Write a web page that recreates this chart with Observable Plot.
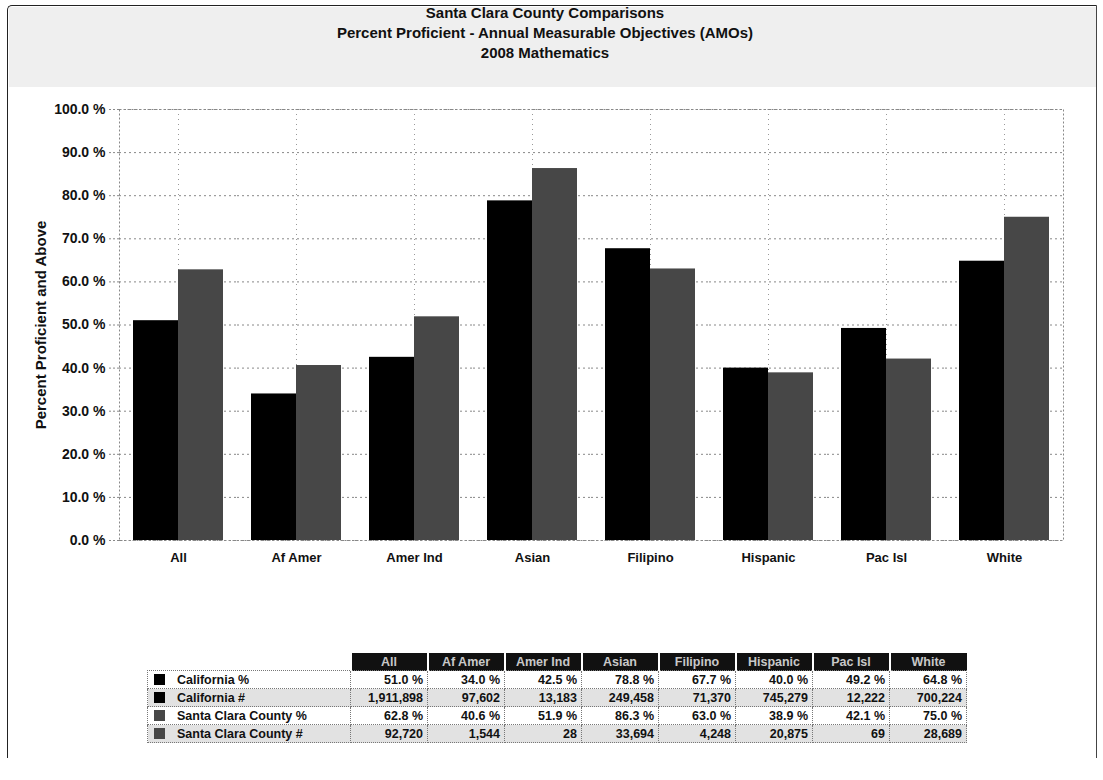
<!DOCTYPE html>
<html>
<head>
<meta charset="utf-8">
<script src="https://cdn.jsdelivr.net/npm/d3@7"></script>
<script src="https://cdn.jsdelivr.net/npm/@observablehq/plot@0.6"></script>
<style>
  html, body { margin: 0; padding: 0; background: #fff; }
  body { width: 1103px; height: 780px; position: relative; overflow: hidden;
         font-family: "Liberation Sans", Arial, sans-serif; }
  #border { position: absolute; left: 7px; top: 5px; width: 1088px; height: 752px;
            border-left: 1.5px solid #222; border-top: 1.5px solid #222; border-right: 1.5px solid #444;
            border-top-left-radius: 5px; }
  #titlebg { position: absolute; left: 9px; top: 7px; width: 1087px; height: 80px; background: #efefef; }
  #title { position: absolute; left: 0; top: 3px; width: 1090px; text-align: center;
           font-weight: bold; font-size: 15px; line-height: 20px; color: #111; }
  #chart { position: absolute; left: 0; top: 90px; }
  #tbl { position: absolute; left: 147px; top: 653px; border-collapse: collapse;
         font-weight: bold; font-size: 12.5px; color: #111; table-layout: fixed; }
  #tbl td, #tbl th { padding: 0 4px; height: 17px; white-space: nowrap; }
  #tbl th { background: #111; color: #c8c8c8; font-weight: bold; text-align: center;
            border-left: 2px solid #fff; font-size: 12.5px; }
  #tbl th.blank { background: transparent; border: none; }
  #tbl td { border: 1px dotted #777; text-align: right; }
  #tbl td.lab { text-align: left; }
  #tbl tr.alt td { background: #e2e2e2; }
  .sw { display: inline-block; width: 11px; height: 11px; vertical-align: -1px; margin: 0 12px 0 2px; }
</style>
</head>
<body>
<div id="titlebg"></div>
<div id="border"></div>
<div id="title"></div>
<div id="chart"></div>
<table id="tbl"></table>
<script>
// ---- data ----
const titleLines = ["Santa Clara County Comparisons",
                    "Percent Proficient - Annual Measurable Objectives (AMOs)",
                    "2008 Mathematics"];
const categories = ["All", "Af Amer", "Amer Ind", "Asian", "Filipino", "Hispanic", "Pac Isl", "White"];
const tableHeaders = ["All", "Af Amer", "Amer Ind", "Asian", "Filipino", "Hispanic", "Pac Isl", "White"];
const seriesNames = ["California %", "Santa Clara County %"];
const californiaPct = [51.0, 34.0, 42.5, 78.8, 67.7, 40.0, 49.2, 64.8];
const santaClaraPct = [62.8, 40.6, 51.9, 86.3, 63.0, 38.9, 42.1, 75.0];
const californiaNum = ["1,911,898", "97,602", "13,183", "249,458", "71,370", "745,279", "12,222", "700,224"];
const santaClaraNum = ["92,720", "1,544", "28", "33,694", "4,248", "20,875", "69", "28,689"];
const yTicks = [0, 10, 20, 30, 40, 50, 60, 70, 80, 90, 100];
const yLabel = "Percent Proficient and Above";
const seriesColors = ["#000000", "#474747"];

document.getElementById("title").innerHTML = titleLines.map(t => `<div>${t}</div>`).join("");

const data = categories.flatMap((c, i) => [
  {cat: c, series: seriesNames[0], value: californiaPct[i]},
  {cat: c, series: seriesNames[1], value: santaClaraPct[i]}
]);

const chart = Plot.plot({
  width: 1103,
  height: 490,
  marginTop: 19,
  marginBottom: 40,
  marginLeft: 118,
  marginRight: 39,
  style: {fontFamily: "'Liberation Sans', Arial, sans-serif", fontWeight: "bold", fontSize: "14px", background: "transparent", color: "#111"},
  fx: {domain: categories, padding: 0, label: null, axis: null},
  x: {domain: seriesNames, paddingInner: 0, paddingOuter: 0.29, axis: null},
  y: {domain: [0, 100], label: null},
  color: {domain: seriesNames, range: seriesColors},
  marks: [
    Plot.gridY(yTicks, {stroke: "#888", strokeOpacity: 1, strokeDasharray: "2,3"}),
    Plot.gridFx({stroke: "#999", strokeOpacity: 1, strokeDasharray: "1,4"}),
    Plot.barY(data, {fx: "cat", x: "series", y: "value", fill: "series"}),
    Plot.frame({facet: "super", stroke: "#888", strokeDasharray: "2,2"}),
    Plot.axisY(yTicks, {
      tickFormat: d => d.toFixed(1) + " %",
      tickSize: 10, tickPadding: 4, fontSize: 14,
      stroke: "#888", strokeDasharray: "2,2",
      label: yLabel, labelAnchor: "center", labelOffset: 84, labelArrow: "none"
    }),
    Plot.axisFx({anchor: "bottom", tickSize: 0, tickPadding: 12, label: null, fontSize: 13})
  ]
});
document.getElementById("chart").appendChild(chart);
// enlarge y label
chart.querySelectorAll("text").forEach(t => { if (t.textContent.startsWith("Percent")) t.setAttribute("font-size", 15); });

// ---- table ----
const rows = [
  {label: "California %", color: seriesColors[0], values: californiaPct.map(v => v.toFixed(1) + " %"), alt: false},
  {label: "California #", color: seriesColors[0], values: californiaNum, alt: true},
  {label: "Santa Clara County %", color: seriesColors[1], values: santaClaraPct.map(v => v.toFixed(1) + " %"), alt: false},
  {label: "Santa Clara County #", color: seriesColors[1], values: santaClaraNum, alt: true}
];
const tbl = document.getElementById("tbl");
let html = `<colgroup><col style="width:203px">${tableHeaders.map(() => '<col style="width:77px">').join("")}</colgroup>`;
html += `<tr><th class="blank"></th>${tableHeaders.map(h => `<th>${h}</th>`).join("")}</tr>`;
rows.forEach(r => {
  html += `<tr class="${r.alt ? "alt" : ""}"><td class="lab"><span class="sw" style="background:${r.color}"></span>${r.label}</td>` +
          r.values.map(v => `<td>${v}</td>`).join("") + `</tr>`;
});
tbl.innerHTML = html;
</script>
</body>
</html>
